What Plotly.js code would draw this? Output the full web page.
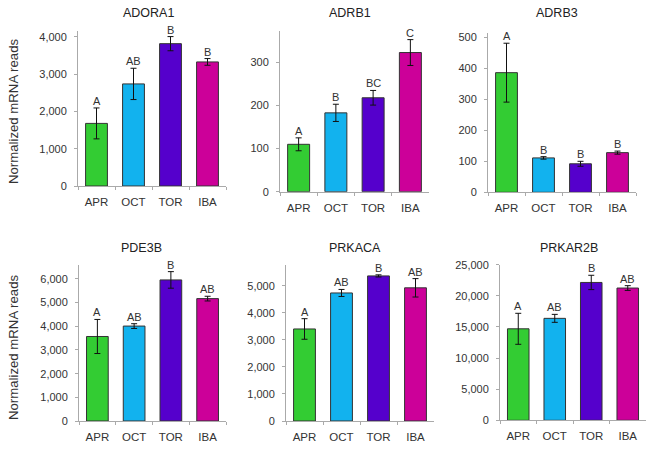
<!DOCTYPE html>
<html>
<head>
<meta charset="utf-8">
<script src="https://cdn.plot.ly/plotly-3.0.1.min.js"></script>
<style>html,body{margin:0;padding:0;background:#fff;}#chart{width:653px;height:449px;}</style>
</head>
<body>
<div id="chart"></div>
<script>
const categories = ["APR", "OCT", "TOR", "IBA"];
const barColors = ["#33CC33", "#12B2EE", "#5500CC", "#CC0099"];
const genes = ["ADORA1", "ADRB1", "ADRB3", "PDE3B", "PRKACA", "PRKAR2B"];

const adora1Values = [1680, 2740, 3820, 3330];
const adora1Errors = [415, 420, 190, 90];
const adora1Letters = ["A", "AB", "B", "B"];

const adrb1Values = [110, 183, 218, 323];
const adrb1Errors = [15, 20, 17, 30];
const adrb1Letters = ["A", "B", "BC", "C"];

const adrb3Values = [386, 111, 92, 128];
const adrb3Errors = [95, 4, 8, 5];
const adrb3Letters = ["A", "B", "B", "B"];

const pde3bValues = [3570, 4010, 5960, 5170];
const pde3bErrors = [720, 100, 350, 100];
const pde3bLetters = ["A", "AB", "B", "AB"];

const prkacaValues = [3400, 4730, 5360, 4920];
const prkacaErrors = [380, 130, 40, 340];
const prkacaLetters = ["A", "AB", "B", "AB"];

const prkar2bValues = [14700, 16380, 22150, 21250];
const prkar2bErrors = [2490, 640, 1150, 380];
const prkar2bLetters = ["A", "AB", "B", "AB"];

const yTickVals = [
  [0, 1000, 2000, 3000, 4000],
  [0, 100, 200, 300],
  [0, 100, 200, 300, 400, 500],
  [0, 1000, 2000, 3000, 4000, 5000, 6000],
  [0, 1000, 2000, 3000, 4000, 5000],
  [0, 5000, 10000, 15000, 20000, 25000]
];

const seriesValues = [adora1Values, adrb1Values, adrb3Values, pde3bValues, prkacaValues, prkar2bValues];
const seriesErrors = [adora1Errors, adrb1Errors, adrb3Errors, pde3bErrors, prkacaErrors, prkar2bErrors];
const seriesLetters = [adora1Letters, adrb1Letters, adrb3Letters, pde3bLetters, prkacaLetters, prkar2bLetters];

// layout geometry (pixels)
const W = 653, H = 449;
const boxes = [
  {x0: 78, x1: 226, top: 31, zero: 186, ymax: 4160, tx: 148.5, ty: 13},
  {x0: 280, x1: 429, top: 31, zero: 191.7, ymax: 373, tx: 350, ty: 13},
  {x0: 488, x1: 636, top: 33, zero: 192.3, ymax: 514, tx: 557, ty: 13},
  {x0: 79, x1: 226, top: 265, zero: 421, ymax: 6590, tx: 141.5, ty: 248},
  {x0: 286, x1: 434, top: 265, zero: 421, ymax: 5763, tx: 355, ty: 248},
  {x0: 500, x1: 646, top: 264.7, zero: 420.3, ymax: 25000, tx: 568.5, ty: 248}
];

const fontFam = "Liberation Sans, Arial, sans-serif";
const textColor = "#333";
const data = [];
const layout = {
  width: W, height: H,
  margin: {l: 0, r: 0, t: 0, b: 0},
  paper_bgcolor: "#fff", plot_bgcolor: "#fff",
  showlegend: false,
  bargap: 0.41,
  annotations: [],
  font: {family: fontFam, color: textColor}
};

genes.forEach((g, i) => {
  const b = boxes[i];
  const sfx = i === 0 ? "" : String(i + 1);
  const xa = "x" + sfx, ya = "y" + sfx;
  data.push({
    type: "bar",
    x: categories,
    y: seriesValues[i],
    xaxis: xa, yaxis: ya,
    marker: {color: barColors, line: {color: "#333", width: 1}},
    error_y: {type: "data", array: seriesErrors[i], visible: true, color: "#111", thickness: 1, width: 3},
    hoverinfo: "none"
  });
  layout["xaxis" + sfx] = {
    domain: [b.x0 / W, b.x1 / W],
    anchor: ya,
    type: "category",
    showline: true, linecolor: "#aaa", linewidth: 1,
    ticks: "outside", tickson: "boundaries", ticklen: 3, tickcolor: "#aaa",
    ticklabelstandoff: 5,
    showgrid: false, zeroline: false,
    tickfont: {family: fontFam, size: 11.5, color: textColor},
    fixedrange: true
  };
  layout["yaxis" + sfx] = {
    domain: [1 - b.zero / H, 1 - b.top / H],
    anchor: xa,
    range: [0, b.ymax],
    showline: true, linecolor: "#aaa", linewidth: 1,
    ticks: "outside", ticklen: 3, tickcolor: "#aaa",
    ticklabelstandoff: 5,
    tickvals: yTickVals[i],
    tickformat: ",d",
    showgrid: false, zeroline: false,
    tickfont: {family: fontFam, size: 11, color: textColor},
    fixedrange: true
  };
  // title
  layout.annotations.push({
    text: g, xref: "paper", yref: "paper",
    x: b.tx / W, y: 1 - b.ty / H,
    xanchor: "center", yanchor: "middle", showarrow: false,
    font: {family: fontFam, size: 12.5, color: "#222"}
  });
  // significance letters
  categories.forEach((c, j) => {
    layout.annotations.push({
      text: seriesLetters[i][j], xref: xa, yref: ya,
      x: c, y: seriesValues[i][j] + seriesErrors[i][j],
      xanchor: "center", yanchor: "bottom", yshift: -1, showarrow: false,
      font: {family: fontFam, size: 11, color: textColor}
    });
  });
});

// y-axis titles
[111, 347].forEach(py => {
  layout.annotations.push({
    text: "Normalized mRNA reads", xref: "paper", yref: "paper",
    x: 13 / W, y: 1 - py / H, textangle: -90,
    xanchor: "center", yanchor: "middle", showarrow: false,
    font: {family: fontFam, size: 13.2, color: textColor}
  });
});

Plotly.newPlot("chart", data, layout, {displayModeBar: false, staticPlot: true});
</script>
</body>
</html>
